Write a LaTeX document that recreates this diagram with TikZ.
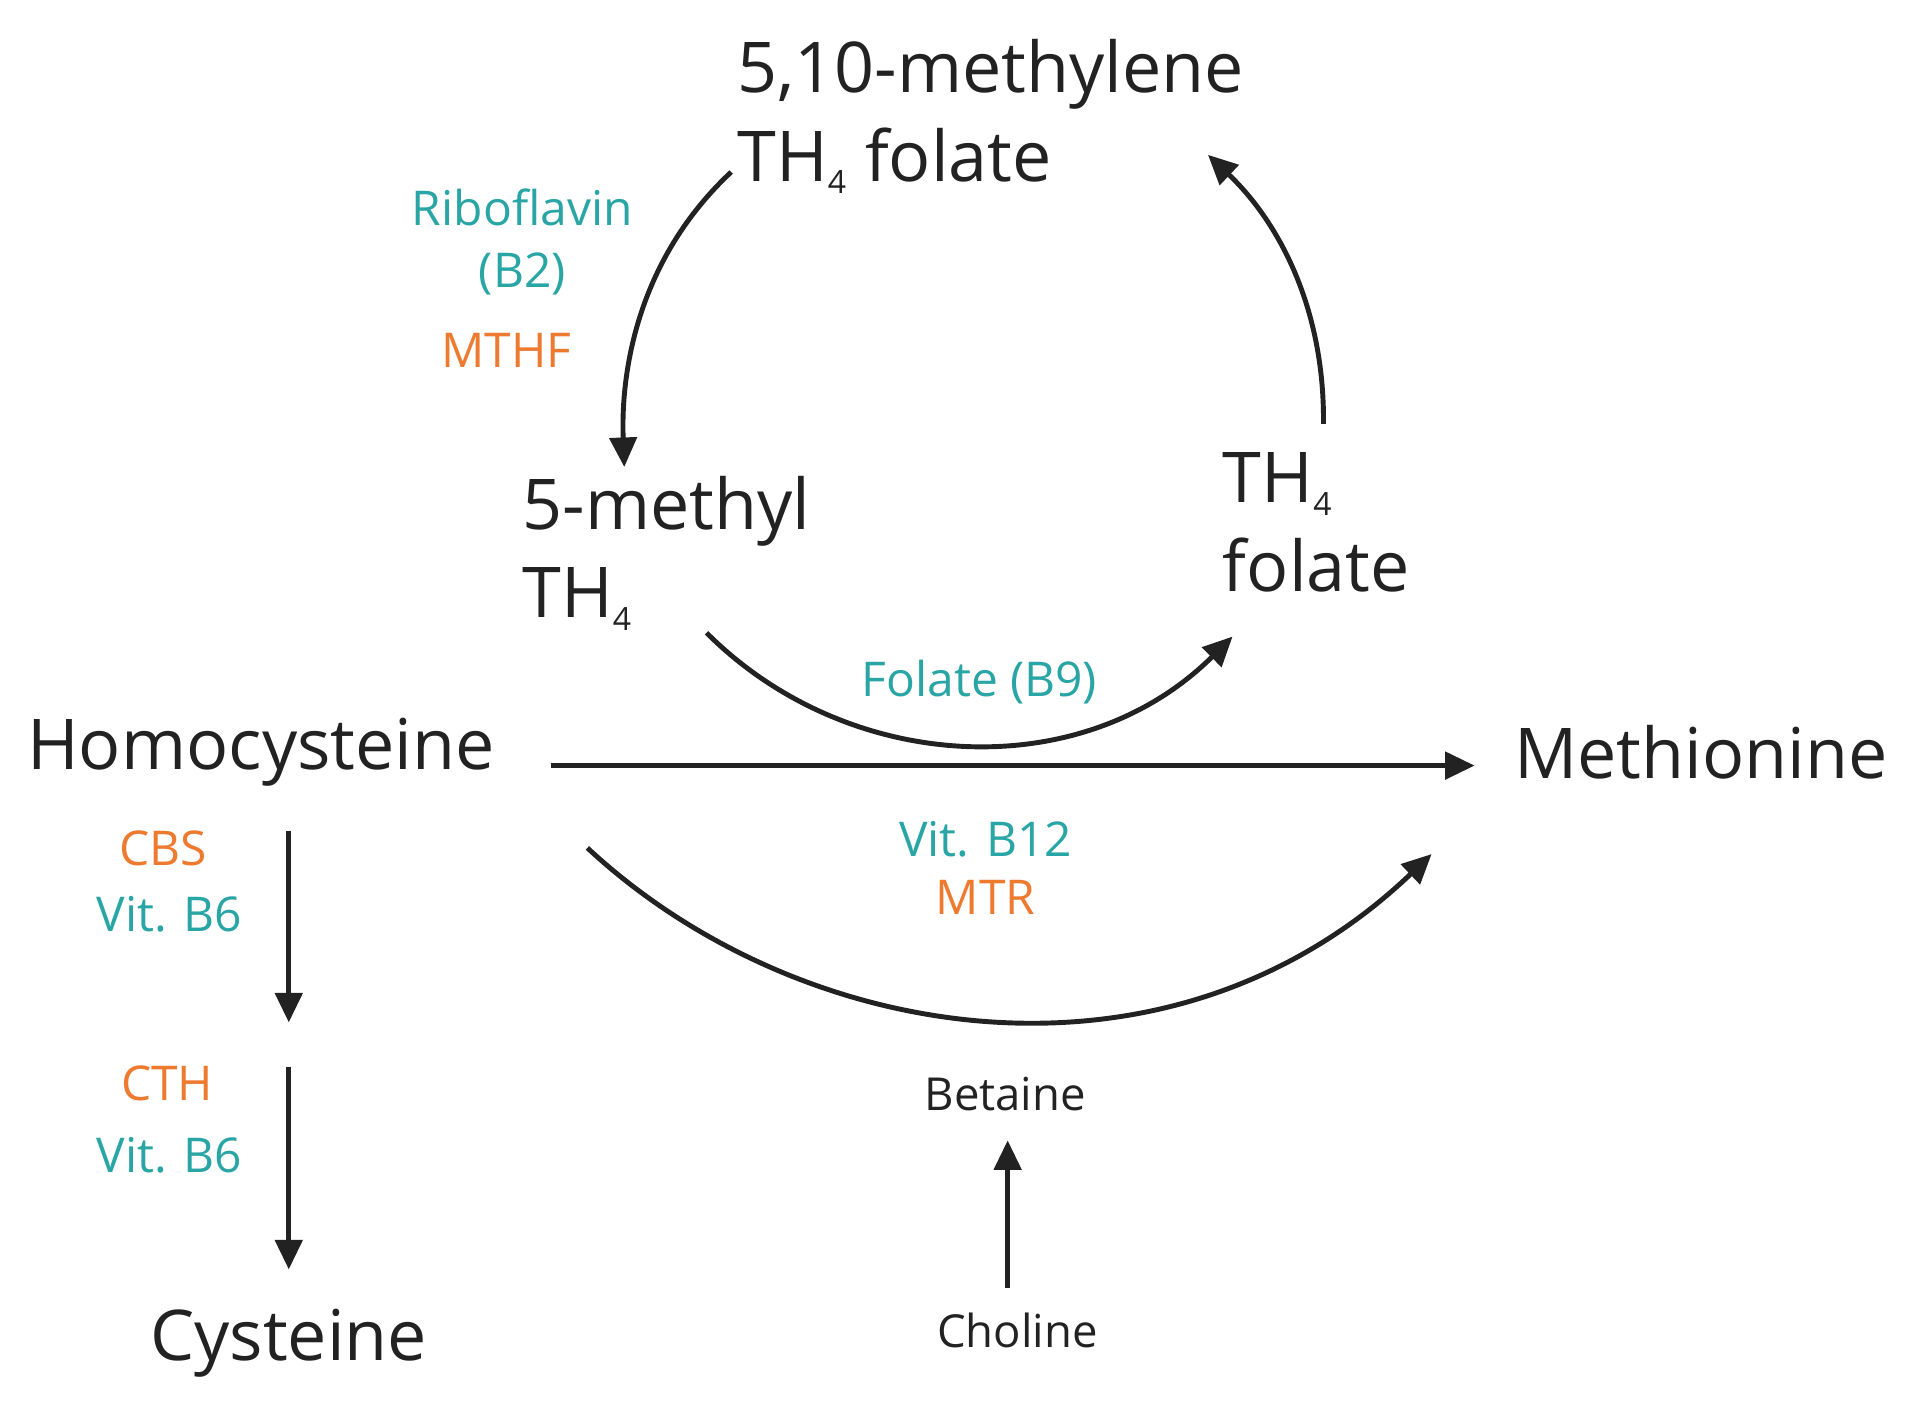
\documentclass[tikz,border=0pt]{standalone}
\usepackage{fontspec}
\setmainfont{Open Sans}
\usetikzlibrary{arrows.meta}
\definecolor{tealc}{HTML}{2AA5A5}
\definecolor{orc}{HTML}{EE7A30}
\definecolor{txt}{HTML}{222222}
\newcommand{\subf}{\textsubscript{\fontsize{26}{26}\selectfont 4}}
\begin{document}
\begin{tikzpicture}[x=1pt,y=-1pt,
 big/.style={font=\fontsize{57}{72}\selectfont,text=txt,inner sep=0pt},
 lab/.style={font=\fontsize{39}{50}\selectfont,inner sep=0pt},
 sml/.style={font=\fontsize{37}{40}\selectfont,text=txt,inner sep=0pt},
 arr/.style={line width=4pt,draw=txt,-{Triangle[length=24pt,width=22pt]}}]
\useasboundingbox (0,0) rectangle (1560,1151.5);
\node[big,anchor=west,align=left] (mthf) at (600,95) {5,10-methylene\\TH\subf\ folate};
\node[lab,text=tealc,align=center] (ribo) at (425,197) {Riboflavin\\(B2)};
\node[lab,text=orc] (mthfr) at (412,285) {MTHF};
\node[big,anchor=west,align=left] (methyl) at (425,450) {5-methyl\\TH\subf};
\node[big,anchor=west,align=left] (th4) at (995,425) {TH\subf\\folate};
\node[lab,text=tealc] (b9) at (797,555) {Folate (B9)};
\node[big,anchor=west] (hcy) at (22,612) {Homocysteine};
\node[big,anchor=west] (met) at (1232,612) {Methionine};
\node[lab,text=tealc] (b12) at (802,683) {Vit. B12};
\node[lab,text=orc] (mtr) at (802,730) {MTR};
\node[lab,text=orc] (cbs) at (133,690) {CBS};
\node[lab,text=tealc] (b6a) at (138,744) {Vit. B6};
\node[lab,text=orc] (cth) at (136,882) {CTH};
\node[lab,text=tealc] (b6b) at (138,940) {Vit. B6};
\node[big] (cys) at (235,1093) {Cysteine};
\node[sml] (bet) at (818,890) {Betaine};
\node[sml] (cho) at (828,1083) {Choline};
\coordinate (h1) at (448,623); \coordinate (h2) at (1200,623);
\draw[arr] (h1) -- (h2);
\coordinate (c1) at (235,676); \coordinate (c2) at (235,832);
\draw[arr] (c1) -- (c2);
\coordinate (c3) at (235,868); \coordinate (c4) at (235,1033);
\draw[arr] (c3) -- (c4);
\coordinate (b1) at (820,1048); \coordinate (b2) at (820,928);
\draw[arr] (b1) -- (b2);
\coordinate (d1) at (478,690); \coordinate (d2) at (1165,695);
\draw[arr] (d1) .. controls (650,850) and (950,900) .. (d2);
\coordinate (f1) at (575,515); \coordinate (f2) at (1003,518);
\draw[arr] (f1) .. controls (690,630) and (880,640) .. (f2);
\coordinate (l1) at (595,140); \coordinate (l2) at (508,380);
\draw[arr] (l1) .. controls (520,210) and (505,300) .. (l2);
\coordinate (r1) at (1077,345); \coordinate (r2) at (983,126);
\draw[arr] (r1) .. controls (1078,250) and (1040,180) .. (r2);
\end{tikzpicture}
\end{document}
